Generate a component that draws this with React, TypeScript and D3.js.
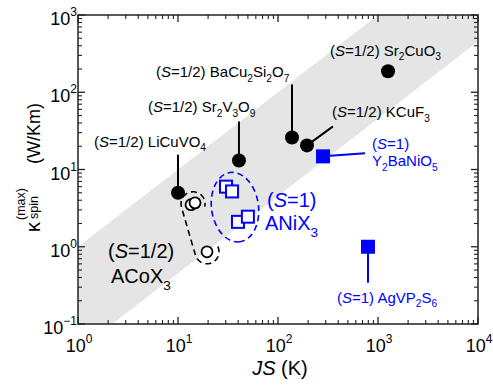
import React from "react";
import * as d3 from "d3";

// ---- data ----
const circleNames = ["LiCuVO4", "Sr2V3O9", "BaCu2Si2O7", "KCuF3", "Sr2CuO3"];
const circleJS = [10, 40.7, 138, 195, 1260];
const circleKappa = [5.0, 13.1, 26, 20.5, 187];

const squareNames = ["Y2BaNiO5", "AgVP2S6"];
const squareJS = [282, 794];
const squareKappa = [14.8, 1.0];

const coJS = [13.5, 14.8, 19.5];
const coKappa = [3.5, 3.7, 0.86];

const niJS = [30.2, 34.7, 39.8, 50];
const niKappa = [6.0, 5.2, 2.1, 2.45];

const xTicks = [1, 10, 100, 1000, 10000];
const yTicks = [0.1, 1, 10, 100, 1000];

const bandUpperRatio = 1;
const bandLowerRatio = 1 / 22;

// ---- layout ----
const W = 493, H = 387;
const L = 78, R = 478, T = 15, B = 324;
const FONT = "'Liberation Sans', Arial, Helvetica, sans-serif";
const BLUE = "#0000ff";

type Seg = { t: string; i?: boolean; sub?: boolean; sup?: boolean };

function formula(s: string): Seg[] {
  const out: Seg[] = [];
  const re = /(\d+)|([^\d]+)/g;
  let m;
  while ((m = re.exec(s))) {
    if (m[1]) out.push({ t: m[1], sub: true });
    else out.push({ t: m[2] });
  }
  return out;
}
function spinPrefix(spin: string): Seg[] {
  return [{ t: "(" }, { t: "S", i: true }, { t: "=" + spin + ")" }];
}

function Rich(props: {
  x: number; y: number; segs: Seg[]; size: number; fill?: string;
  anchor?: string; subShift?: number; supShift?: number; small?: number;
}) {
  const { x, y, segs, size, fill = "#000", anchor = "start" } = props;
  const subShift = props.subShift ?? size * 0.28;
  const supShift = props.supShift ?? size * 0.45;
  const small = props.small ?? size * 0.68;
  let cur = 0;
  return (
    <text x={x} y={y} fontSize={size} fill={fill} textAnchor={anchor} fontFamily={FONT}>
      {segs.map((s, k) => {
        const target = s.sub ? subShift : s.sup ? -supShift : 0;
        const dy = target - cur;
        cur = target;
        return (
          <tspan key={k} dy={dy} fontSize={s.sub || s.sup ? small : size} fontStyle={s.i ? "italic" : "normal"}>
            {s.t}
          </tspan>
        );
      })}
    </text>
  );
}

export default function App() {
  const x = d3.scaleLog().domain([1, 1e4]).range([L, R]);
  const y = d3.scaleLog().domain([0.1, 1000]).range([B, T]);

  // band
  const bandXs = [0.1, 1e5];
  const upper = bandXs.map((v) => [x(v), y(v * bandUpperRatio)]);
  const lower = bandXs.slice().reverse().map((v) => [x(v), y(v * bandLowerRatio)]);
  const bandPath = d3.line()([...upper, ...lower] as [number, number][]) + "Z";

  // minor ticks
  const minorX: number[] = [];
  for (let d = 0; d < 4; d++) for (let k = 2; k <= 9; k++) minorX.push(k * Math.pow(10, d));
  const minorY: number[] = [];
  for (let d = -1; d < 3; d++) for (let k = 2; k <= 9; k++) minorY.push(k * Math.pow(10, d));
  const MAJ = 7, MIN = 4;

  const circleLayout = [
    { leader: [0, -38], label: [-84, -46] },
    { leader: [0, -39], label: [-91, -48] },
    { leader: [0, -53], label: [-136, -60] },
    { leader: [26, -19], label: [25, -28] },
    { leader: null, label: [-58, -15] },
  ];

  const cp = circleJS.map((v, i) => [x(v), y(circleKappa[i])]);
  const sp = squareJS.map((v, i) => [x(v), y(squareKappa[i])]);
  const cop = coJS.map((v, i) => [x(v), y(coKappa[i])]);
  const nip = niJS.map((v, i) => [x(v), y(niKappa[i])]);

  // blue grouping ellipse
  const niCx = d3.mean(nip, (p) => p[0])! - 1;
  const niCy = d3.mean(nip, (p) => p[1])! + 3;

  // black grouping: stadium-like dashed outline around ACoX3 points
  const topC = [(cop[0][0] + cop[1][0]) / 2, (cop[0][1] + cop[1][1]) / 2];
  const botC = cop[2];
  const ang = Math.atan2(botC[1] - topC[1], botC[0] - topC[0]);
  const u = [Math.cos(ang), Math.sin(ang)];
  const v = [-Math.sin(ang), Math.cos(ang)];
  const rr = 12;
  const pts: [number, number][] = [];
  const cap = (c: number[], s0: number, s1: number, r: number) => {
    const n = 40;
    for (let k = 0; k <= n; k++) {
      const s = ((s0 + ((s1 - s0) * k) / n) * Math.PI) / 180;
      pts.push([c[0] + r * (Math.cos(s) * u[0] + Math.sin(s) * v[0]), c[1] + r * (Math.cos(s) * u[1] + Math.sin(s) * v[1])]);
    }
  };
  cap(botC, -100, 90, rr);
  cap(topC, 90, 300, rr);
  const coPath = d3.line().curve(d3.curveCatmullRom)(pts)!;

  return (
    <svg width={W} height={H} style={{ position: "absolute", left: 0, top: 0, background: "#fff" }}>
      <defs>
        <clipPath id="plot">
          <rect x={L} y={T} width={R - L} height={B - T} />
        </clipPath>
      </defs>
      <path d={bandPath} fill="#e5e5e5" clipPath="url(#plot)" />

      {/* dashed groupings */}
      <path d={coPath} fill="none" stroke="#000" strokeWidth={1.6} strokeDasharray="6 4" />
      <ellipse cx={niCx} cy={niCy} rx={35} ry={23.5} transform={`rotate(82 ${niCx} ${niCy})`}
        fill="none" stroke={BLUE} strokeWidth={1.6} strokeDasharray="6 4" />

      {/* leaders */}
      {cp.map((p, i) => {
        const l = circleLayout[i].leader;
        return l ? <line key={i} x1={p[0]} y1={p[1]} x2={p[0] + l[0]} y2={p[1] + l[1]} stroke="#000" strokeWidth={2} /> : null;
      })}
      <line x1={sp[0][0]} y1={sp[0][1]} x2={sp[0][0] + 42} y2={sp[0][1] - 3} stroke={BLUE} strokeWidth={2} />
      <line x1={sp[1][0]} y1={sp[1][1]} x2={sp[1][0]} y2={sp[1][1] + 36} stroke={BLUE} strokeWidth={2} />

      {/* open circles */}
      {cop.map((p, i) => (
        <circle key={i} cx={p[0]} cy={p[1]} r={5.5} fill="#fff" stroke="#000" strokeWidth={1.8} />
      ))}
      {/* open squares */}
      {nip.map((p, i) => (
        <rect key={i} x={p[0] - 6} y={p[1] - 6} width={12} height={12} fill="#fff" stroke={BLUE} strokeWidth={2} />
      ))}
      {/* filled circles */}
      {cp.map((p, i) => (
        <circle key={i} cx={p[0]} cy={p[1]} r={7} fill="#000" />
      ))}
      {/* filled squares */}
      {sp.map((p, i) => (
        <rect key={i} x={p[0] - 7} y={p[1] - 7} width={14} height={14} fill={BLUE} />
      ))}

      {/* labels */}
      {cp.map((p, i) => (
        <Rich key={i} x={p[0] + circleLayout[i].label[0]} y={p[1] + circleLayout[i].label[1]}
          segs={[...spinPrefix("1/2"), { t: " " }, ...formula(circleNames[i])]} size={15} />
      ))}
      <Rich x={sp[0][0] + 49} y={sp[0][1] - 7} segs={spinPrefix("1")} size={15} fill={BLUE} />
      <Rich x={sp[0][0] + 49} y={sp[0][1] + 10} segs={formula(squareNames[0])} size={15} fill={BLUE} />
      <Rich x={sp[1][0] - 31} y={sp[1][1] + 56} segs={[...spinPrefix("1"), { t: " " }, ...formula(squareNames[1])]} size={15} fill={BLUE} />

      <Rich x={267} y={207} segs={spinPrefix("1")} size={20} fill={BLUE} />
      <Rich x={265} y={230} segs={formula("ANiX3")} size={20} fill={BLUE} subShift={7} />
      <Rich x={108} y={258} segs={spinPrefix("1/2")} size={20} />
      <Rich x={111} y={283} segs={formula("ACoX3")} size={20} subShift={7} />

      {/* axes frame */}
      <rect x={L} y={T} width={R - L} height={B - T} fill="none" stroke="#222" strokeWidth={1.5} />
      {xTicks.map((v, i) => (
        <g key={"xt" + i} stroke="#222" strokeWidth={1.3}>
          <line x1={x(v)} x2={x(v)} y1={B} y2={B - MAJ} />
          <line x1={x(v)} x2={x(v)} y1={T} y2={T + MAJ} />
        </g>
      ))}
      {minorX.map((v, i) => (
        <g key={"xm" + i} stroke="#222" strokeWidth={1.1}>
          <line x1={x(v)} x2={x(v)} y1={B} y2={B - MIN} />
          <line x1={x(v)} x2={x(v)} y1={T} y2={T + MIN} />
        </g>
      ))}
      {yTicks.map((v, i) => (
        <g key={"yt" + i} stroke="#222" strokeWidth={1.3}>
          <line x1={L} x2={L + MAJ} y1={y(v)} y2={y(v)} />
          <line x1={R} x2={R - MAJ} y1={y(v)} y2={y(v)} />
        </g>
      ))}
      {minorY.map((v, i) => (
        <g key={"ym" + i} stroke="#222" strokeWidth={1.1}>
          <line x1={L} x2={L + MIN} y1={y(v)} y2={y(v)} />
          <line x1={R} x2={R - MIN} y1={y(v)} y2={y(v)} />
        </g>
      ))}

      {/* tick labels */}
      {xTicks.map((v, i) => (
        <Rich key={"xl" + i} x={x(v) + 1} y={352} anchor="middle" size={18} small={12} supShift={9}
          segs={[{ t: "10" }, { t: String(Math.round(Math.log10(v))).replace("-", "\u2212"), sup: true }]} />
      ))}
      {yTicks.map((v, i) => (
        <Rich key={"yl" + i} x={77} y={y(v) + 10} anchor="end" size={18} small={12} supShift={9}
          segs={[{ t: "10" }, { t: String(Math.round(Math.log10(v))).replace("-", "\u2212"), sup: true }]} />
      ))}

      {/* axis titles */}
      <Rich x={280} y={375} anchor="middle" size={20}
        segs={[{ t: "JS", i: true }, { t: " (K)" }]} />
      <g transform="translate(40,232) rotate(-90)" fontFamily={FONT} fill="#000">
        <text x={0} y={0} fontSize={20}>κ</text>
        <text x={12} y={-15} fontSize={12.5}>(max)</text>
        <text x={13} y={-2} fontSize={12.5}>spin</text>
        <text x={68} y={0} fontSize={18}>(W/Km)</text>
      </g>
    </svg>
  );
}
